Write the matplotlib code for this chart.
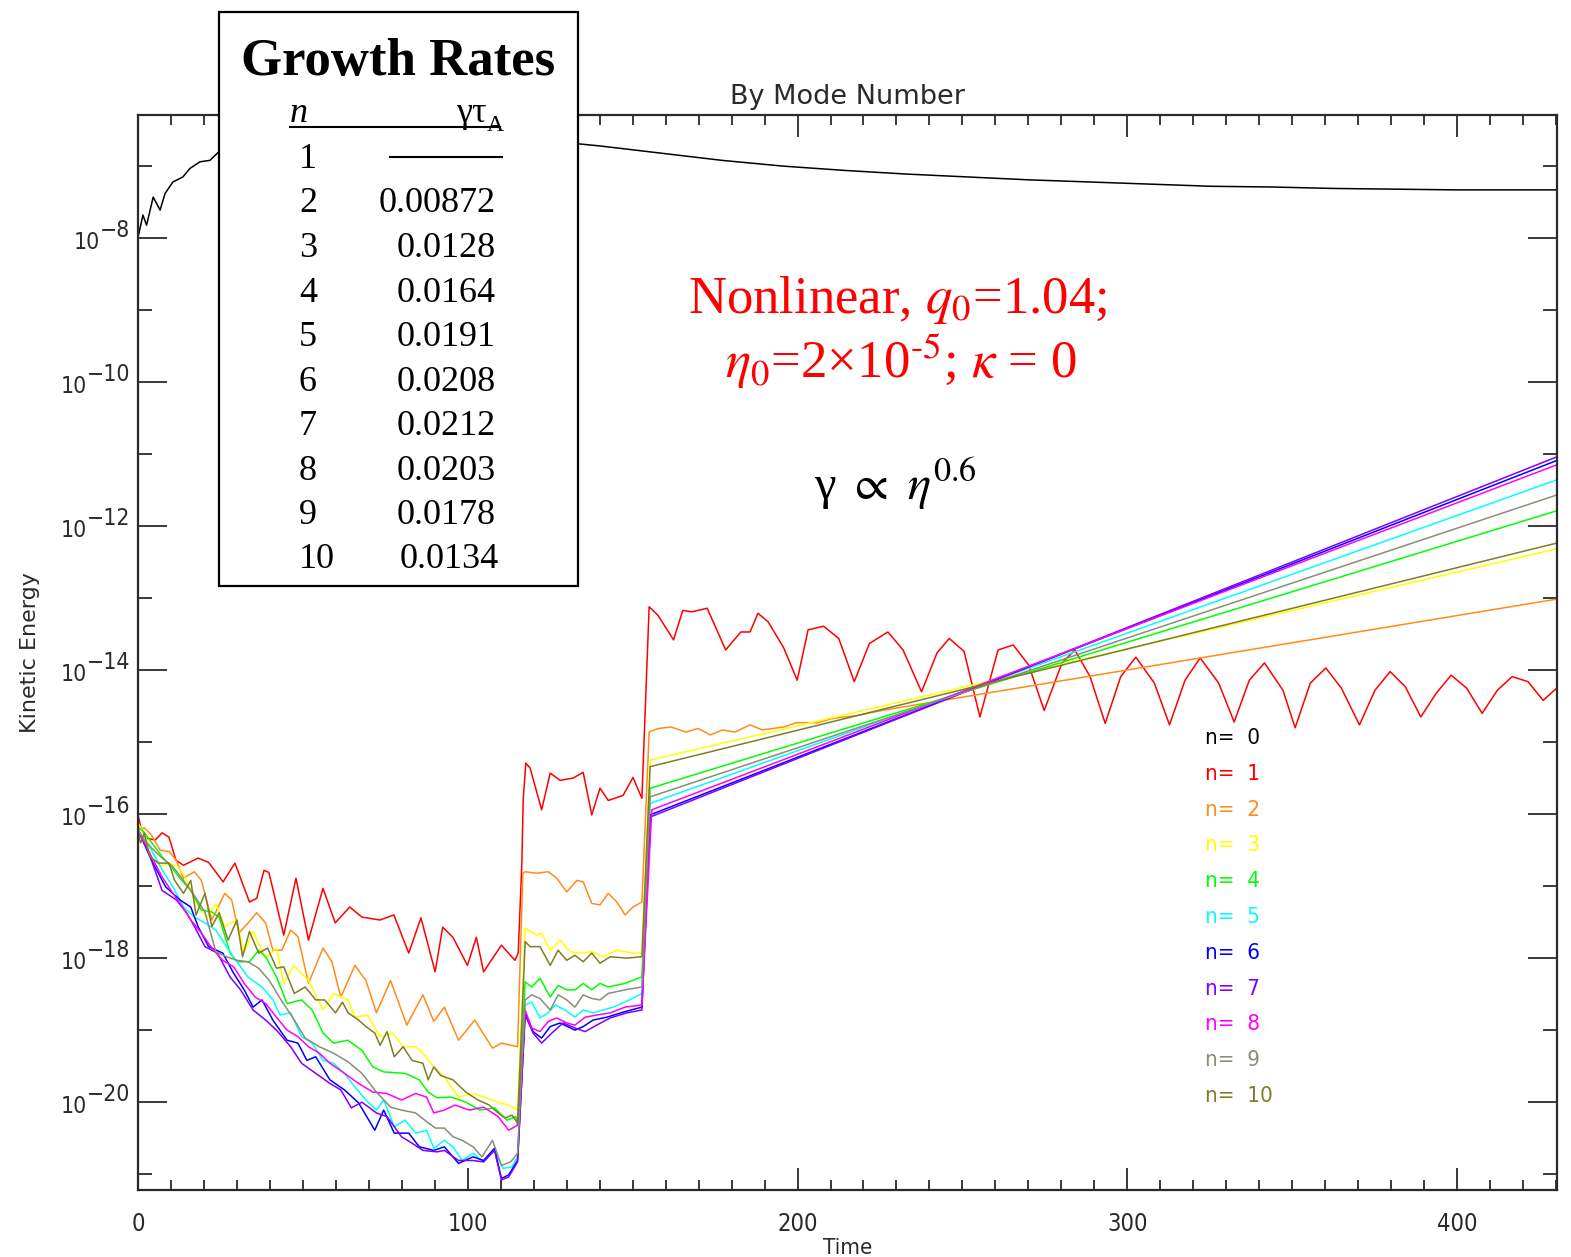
import numpy as np
import matplotlib.pyplot as plt
from matplotlib.patches import Rectangle
from matplotlib.lines import Line2D
from matplotlib.ticker import FixedLocator, MultipleLocator, NullFormatter

# kinetic energy of each toroidal mode n; columns: time, log10(KE)
ke_n0 = np.array([[0, -7.99], [1.5, -7.68], [2.6, -7.82], [4.6, -7.43], [6.7, -7.61], [8.2, -7.38],
                  [10.6, -7.22], [13.6, -7.15], [15.8, -7.03], [18.8, -6.94], [21.8, -6.92], [24.3, -6.81],
                  [133.5, -6.69], [140.1, -6.72], [158.6, -6.82], [177.1, -6.92], [195.6, -7.00],
                  [214.4, -7.06], [232.9, -7.11], [251.4, -7.15], [269.9, -7.19], [288.4, -7.22],
                  [306.9, -7.25], [325.4, -7.28], [343.9, -7.29], [362.4, -7.31], [380.9, -7.32],
                  [399.8, -7.33], [430.4, -7.33]])

ke_n1 = np.array([[0, -16.01], [0.8, -16.17], [2.4, -16.33], [5.2, -16.36], [7.3, -16.26], [9.4, -16.32],
                  [11.5, -16.64], [13.8, -16.71], [18.2, -16.61], [21.4, -16.67], [25.8, -16.94], [29.4, -16.68],
                  [33.8, -17.22], [36.0, -17.17], [38.2, -16.78], [39.7, -16.81], [44.2, -17.68], [47.9, -16.89],
                  [51.7, -17.75], [56.1, -17.03], [59.8, -17.51], [64.2, -17.29], [67.9, -17.43], [73.4, -17.47],
                  [77.6, -17.40], [82.1, -17.93], [85.8, -17.44], [90.1, -18.19], [92.4, -17.57], [95.5, -17.71],
                  [99.9, -18.10], [102.6, -17.71], [104.8, -18.19], [110.2, -17.82], [114.3, -18.03],
                  [115.3, -17.93], [116.4, -16.68], [116.8, -15.81], [117.6, -15.29], [118.9, -15.36],
                  [122.4, -15.94], [125.0, -15.43], [128.0, -15.53], [131.9, -15.50], [135.0, -15.42],
                  [137.6, -16.01], [140.1, -15.64], [142.6, -15.81], [147.1, -15.74], [150.1, -15.49],
                  [152.8, -15.78], [155.0, -13.12], [157.7, -13.24], [162.4, -13.58], [165.2, -13.17],
                  [168.0, -13.19], [172.6, -13.14], [178.2, -13.72], [182.8, -13.47], [185.6, -13.47],
                  [188.0, -13.21], [191.1, -13.33], [195.8, -13.69], [199.9, -14.14], [203.2, -13.44],
                  [207.9, -13.39], [212.5, -13.56], [217.2, -14.16], [221.8, -13.63], [227.4, -13.47],
                  [232.0, -13.72], [237.6, -14.30], [242.3, -13.76], [246.0, -13.56], [250.5, -13.74],
                  [255.3, -14.65], [260.8, -13.72], [265.4, -13.65], [270.1, -13.93], [274.8, -14.56],
                  [280.2, -13.90], [284.1, -13.72], [288.7, -14.09], [293.3, -14.74], [298.0, -14.09],
                  [302.6, -13.82], [308.2, -14.18], [312.8, -14.76], [317.5, -14.14], [322.1, -13.83],
                  [327.7, -14.18], [332.4, -14.72], [337.0, -14.14], [341.6, -13.90], [347.2, -14.28],
                  [350.9, -14.80], [355.5, -14.18], [360.2, -13.97], [364.9, -14.25], [370.4, -14.76],
                  [375.1, -14.28], [379.7, -14.02], [384.3, -14.23], [389.0, -14.65], [393.7, -14.32],
                  [398.2, -14.07], [402.9, -14.25], [407.6, -14.60], [412.2, -14.28], [416.7, -14.09],
                  [421.5, -14.16], [426.1, -14.42], [430.7, -14.23]])

ke_n2 = np.array([[0, -16.22], [1.9, -16.19], [4.1, -16.29], [6.7, -16.50], [9.4, -16.52], [11.6, -16.64],
                  [13.8, -16.89], [17.1, -16.80], [19.2, -16.92], [22.4, -17.47], [26.3, -17.10], [28.4, -17.19],
                  [30.6, -17.65], [33.4, -17.51], [36.0, -17.37], [38.7, -17.51], [40.9, -17.89], [43.6, -17.89],
                  [46.3, -17.61], [48.5, -17.70], [51.7, -18.35], [56.1, -17.86], [58.8, -18.05], [61.5, -18.54],
                  [65.8, -18.10], [69.1, -18.31], [72.3, -18.76], [76.6, -18.31], [81.5, -18.93], [86.4, -18.51],
                  [89.7, -18.88], [92.9, -18.68], [97.2, -19.14], [102.1, -18.86], [107.5, -19.25],
                  [110.2, -19.18], [115.1, -19.23], [116.7, -16.82], [117.4, -16.80], [120.9, -16.82],
                  [124.4, -16.80], [127.0, -16.89], [130.0, -17.08], [133.1, -16.92], [135.0, -16.94],
                  [137.6, -17.24], [140.1, -17.26], [142.6, -17.10], [145.2, -17.22], [147.7, -17.40],
                  [150.1, -17.29], [152.8, -17.22], [155.0, -14.86], [157.7, -14.81], [161.7, -14.79],
                  [166.2, -14.86], [169.9, -14.81], [173.5, -14.90], [177.3, -14.83], [181.0, -14.86],
                  [185.6, -14.76], [189.3, -14.83], [195.8, -14.79], [199.6, -14.73], [206.1, -14.73],
                  [210.7, -14.67], [218.1, -14.63], [225.6, -14.56], [430.7, -13.01]])

ke_n3 = np.array([[0, -16.12], [1.8, -16.26], [4.1, -16.52], [6.7, -16.73], [9.4, -16.68], [12.1, -16.73],
                  [14.9, -16.92], [17.1, -17.19], [20.9, -17.44], [23.6, -17.24], [26.3, -17.56], [30.0, -17.47],
                  [32.1, -17.93], [34.9, -17.63], [38.7, -18.00], [42.0, -17.86], [44.2, -18.35], [47.3, -18.10],
                  [51.7, -18.31], [56.1, -18.72], [59.3, -18.49], [63.7, -18.58], [65.8, -18.82], [69.6, -18.79],
                  [73.4, -19.09], [77.2, -19.04], [80.4, -19.23], [84.2, -19.23], [86.4, -19.32], [89.7, -19.51],
                  [92.9, -19.65], [97.2, -19.93], [101.6, -19.88], [104.8, -19.93], [109.2, -20.00],
                  [112.4, -20.04], [115.1, -20.11], [117.4, -17.58], [120.9, -17.68], [122.4, -17.65],
                  [125.0, -17.89], [128.0, -17.75], [131.0, -17.91], [134.0, -17.93], [137.6, -17.91],
                  [141.0, -17.98], [145.2, -17.89], [150.1, -17.93], [152.8, -17.93], [155.3, -15.25],
                  [430.7, -12.31]])

ke_n4 = np.array([[0, -16.18], [1.8, -16.25], [4.1, -16.39], [7.3, -16.59], [10.0, -16.73], [12.7, -16.89],
                  [16.0, -17.06], [19.2, -17.33], [22.4, -17.36], [24.6, -17.43], [27.9, -17.93], [30.0, -18.05],
                  [33.8, -18.05], [36.6, -17.89], [38.7, -17.98], [42.0, -18.26], [45.2, -18.63], [49.6, -18.58],
                  [52.8, -18.72], [56.1, -19.04], [59.3, -19.18], [63.7, -19.14], [67.9, -19.28], [71.2, -19.51],
                  [74.5, -19.58], [81.0, -19.60], [85.3, -19.69], [88.0, -19.86], [90.7, -19.94], [95.1, -19.93],
                  [99.4, -20.00], [103.7, -20.11], [108.1, -20.08], [111.9, -20.25], [114.6, -20.20],
                  [115.1, -20.32], [117.4, -18.33], [119.4, -18.40], [121.9, -18.28], [125.0, -18.54],
                  [127.4, -18.38], [130.0, -18.44], [132.5, -18.44], [135.0, -18.35], [137.6, -18.44],
                  [140.1, -18.35], [142.6, -18.40], [147.7, -18.35], [152.8, -18.26], [155.3, -15.64],
                  [430.7, -11.78]])

ke_n5 = np.array([[0, -16.22], [4.1, -16.50], [7.9, -16.82], [10.6, -17.01], [13.8, -17.29], [17.1, -17.43],
                  [20.3, -17.51], [23.6, -17.61], [26.8, -17.84], [30.0, -18.05], [33.3, -18.26], [37.6, -18.40],
                  [40.9, -18.58], [43.1, -18.79], [46.3, -18.76], [49.6, -19.09], [52.8, -19.18], [56.1, -19.42],
                  [59.3, -19.46], [62.6, -19.60], [65.8, -19.79], [69.1, -19.97], [72.3, -20.11], [74.5, -19.97],
                  [77.7, -20.34], [81.0, -20.25], [84.2, -20.43], [87.5, -20.39], [89.7, -20.64], [92.9, -20.53],
                  [95.5, -20.62], [98.3, -20.81], [101.6, -20.71], [104.8, -20.83], [108.1, -20.67],
                  [110.7, -20.92], [113.4, -20.90], [115.1, -20.76], [117.4, -18.65], [119.4, -18.61],
                  [121.9, -18.83], [124.4, -18.76], [126.5, -18.65], [129.5, -18.72], [132.5, -18.82],
                  [135.0, -18.72], [138.0, -18.76], [141.0, -18.72], [144.1, -18.68], [147.7, -18.61],
                  [152.8, -18.49], [155.3, -15.85], [430.7, -11.35]])

ke_n6 = np.array([[0, -16.22], [4.1, -16.64], [8.4, -17.01], [12.7, -17.19], [16.0, -17.29], [18.2, -17.56],
                  [21.4, -17.84], [25.7, -17.93], [29.0, -18.21], [32.2, -18.44], [34.9, -18.68], [37.6, -18.58],
                  [40.9, -18.86], [45.2, -19.14], [48.5, -19.18], [51.2, -19.42], [53.9, -19.37], [58.2, -19.69],
                  [62.6, -19.83], [66.9, -20.01], [71.8, -20.39], [74.5, -20.11], [77.7, -20.43], [82.1, -20.43],
                  [85.3, -20.62], [89.7, -20.67], [92.9, -20.62], [97.2, -20.85], [101.6, -20.76],
                  [104.8, -20.81], [108.1, -20.64], [110.2, -21.06], [112.4, -21.01], [115.1, -20.81],
                  [117.4, -18.76], [119.8, -19.02], [122.4, -19.11], [125.0, -18.95], [128.0, -18.90],
                  [132.5, -19.00], [135.0, -18.95], [138.0, -18.86], [142.2, -18.82], [147.1, -18.75],
                  [152.8, -18.68], [155.3, -16.01], [430.7, -11.08]])

ke_n7 = np.array([[0, -16.22], [3.0, -16.50], [7.3, -17.06], [11.6, -17.19], [14.9, -17.38], [17.1, -17.56],
                  [20.3, -17.84], [24.1, -17.93], [27.9, -18.26], [31.1, -18.44], [34.9, -18.72], [38.7, -18.86],
                  [42.0, -19.00], [46.3, -19.23], [49.6, -19.46], [53.9, -19.60], [58.2, -19.74], [61.5, -19.83],
                  [64.7, -20.08], [67.9, -20.00], [72.3, -20.15], [75.5, -20.20], [79.9, -20.48], [83.1, -20.57],
                  [86.4, -20.67], [90.7, -20.69], [92.9, -20.67], [97.2, -20.81], [101.6, -20.81],
                  [104.8, -20.83], [108.1, -20.67], [110.2, -21.08], [112.4, -21.04], [115.1, -20.83],
                  [117.4, -18.79], [119.8, -19.04], [122.4, -19.18], [125.5, -19.04], [128.9, -18.90],
                  [132.5, -18.97], [135.6, -19.02], [139.1, -18.93], [143.2, -18.83], [148.2, -18.76],
                  [152.8, -18.72], [155.3, -16.04], [430.7, -11.03]])

ke_n8 = np.array([[0, -16.22], [4.1, -16.59], [7.3, -16.87], [10.6, -17.10], [13.8, -17.31], [16.0, -17.47],
                  [19.2, -17.65], [22.4, -17.86], [25.7, -18.03], [29.0, -18.12], [32.2, -18.35], [35.5, -18.54],
                  [38.7, -18.63], [42.0, -18.82], [45.2, -19.00], [48.5, -19.09], [51.7, -19.23], [55.0, -19.32],
                  [58.2, -19.46], [62.6, -19.60], [66.9, -19.74], [71.2, -19.86], [75.5, -19.88], [79.9, -19.97],
                  [84.2, -19.88], [87.5, -19.93], [89.7, -20.15], [92.9, -20.11], [96.1, -20.04],
                  [100.5, -20.11], [104.8, -20.07], [109.2, -20.20], [112.4, -20.39], [115.1, -20.32],
                  [117.4, -18.72], [119.4, -18.97], [121.9, -19.02], [124.4, -18.88], [127.0, -18.83],
                  [130.0, -18.90], [132.5, -18.93], [135.6, -18.82], [139.1, -18.79], [143.2, -18.76],
                  [147.7, -18.68], [152.8, -18.65], [155.8, -15.94], [430.7, -11.14]])

ke_n9 = np.array([[0, -16.22], [1.9, -16.36], [4.1, -16.47], [7.3, -16.61], [10.6, -16.73], [13.8, -16.92],
                  [17.1, -17.13], [20.3, -17.36], [23.6, -17.91], [26.8, -17.98], [30.0, -18.03], [33.3, -18.05],
                  [36.6, -18.14], [39.8, -18.31], [43.1, -18.56], [47.4, -18.86], [50.7, -19.11], [55.0, -19.23],
                  [59.3, -19.32], [63.7, -19.44], [67.9, -19.60], [72.3, -19.86], [76.6, -20.07], [79.9, -20.11],
                  [84.2, -20.15], [87.5, -20.27], [90.2, -20.36], [92.9, -20.36], [95.5, -20.48], [98.3, -20.53],
                  [101.6, -20.62], [104.3, -20.76], [107.5, -20.53], [110.2, -20.88], [113.0, -20.83],
                  [115.1, -20.71], [117.4, -18.58], [119.4, -18.51], [121.9, -18.56], [125.0, -18.72],
                  [127.4, -18.51], [130.0, -18.58], [132.5, -18.68], [135.0, -18.51], [137.6, -18.56],
                  [140.1, -18.58], [142.6, -18.49], [147.7, -18.44], [152.8, -18.40], [155.3, -15.76],
                  [430.7, -11.56]])

ke_n10 = np.array([[0, -16.26], [0.8, -16.40], [1.9, -16.26], [3.5, -16.59], [6.2, -16.68], [9.4, -16.68],
                   [11.1, -16.92], [13.8, -17.10], [16.0, -16.92], [17.6, -17.40], [20.3, -17.10], [22.4, -17.56],
                   [24.6, -17.37], [27.3, -17.75], [30.0, -17.47], [31.7, -17.98], [33.8, -17.63], [36.6, -17.93],
                   [39.3, -17.86], [42.0, -18.14], [44.2, -18.12], [47.4, -18.49], [50.7, -18.40], [53.9, -18.58],
                   [56.6, -18.58], [59.9, -18.76], [62.0, -18.61], [63.7, -18.76], [66.9, -18.86], [69.1, -18.95],
                   [71.8, -19.04], [73.4, -19.21], [75.5, -19.02], [77.7, -19.37], [80.4, -19.23], [83.1, -19.42],
                   [86.4, -19.46], [88.0, -19.69], [89.7, -19.51], [91.8, -19.63], [95.5, -19.69], [99.4, -19.86],
                   [103.1, -19.97], [106.5, -20.04], [109.2, -20.15], [111.3, -20.22], [113.4, -20.18],
                   [115.1, -20.29], [117.4, -17.77], [118.9, -17.84], [121.9, -17.84], [125.0, -18.10],
                   [127.4, -17.89], [130.0, -18.03], [132.5, -17.96], [135.0, -18.05], [137.6, -17.93],
                   [140.1, -18.07], [143.2, -17.98], [148.2, -18.00], [152.8, -17.98], [155.3, -15.34],
                   [430.7, -12.23]])

modes = [ke_n0, ke_n1, ke_n2, ke_n3, ke_n4, ke_n5, ke_n6, ke_n7, ke_n8, ke_n9, ke_n10]
mode_colors = ['#000000', '#ff0000', '#ff8c1a', '#ffff00', '#00ff00', '#00ffff',
               '#0000ff', '#8000ff', '#ff00ff', '#8c8c78', '#7d7d28']

# growth-rate table (n = 1 has no linear growth rate)
table_n = [1, 2, 3, 4, 5, 6, 7, 8, 9, 10]
table_rate = [None, 0.00872, 0.0128, 0.0164, 0.0191, 0.0208, 0.0212, 0.0203, 0.0178, 0.0134]

y_label_exps = [-8, -10, -12, -14, -16, -18, -20]

W, H = 1571, 1257
fig = plt.figure(figsize=(W / 100, H / 100), dpi=100)
ax = fig.add_axes([138 / W, 1 - 1190 / H, (1557 - 138) / W, (1190 - 115) / H])

cond = dict(family='DejaVu Sans', stretch='condensed')
dark = '#2a2a2a'
lab_size = 16.5

for data, col in zip(modes, mode_colors):
    ax.plot(data[:, 0], 10.0 ** data[:, 1], color=col, lw=1.1)

ax.set_yscale('log')
ax.set_xlim(0, 430.3)
ax.set_ylim(10 ** -21.22, 10 ** -6.29)

ax.xaxis.set_major_locator(MultipleLocator(100))
ax.xaxis.set_minor_locator(MultipleLocator(10))
ax.yaxis.set_major_locator(FixedLocator(10.0 ** np.arange(-20, -7, 2)))
ax.yaxis.set_minor_locator(FixedLocator(10.0 ** np.arange(-21, -6, 2)))
ax.yaxis.set_major_formatter(NullFormatter())
ax.yaxis.set_minor_formatter(NullFormatter())

ax.tick_params(which='both', direction='in', top=True, right=True, color=dark, width=1.3,
               labelcolor=dark)
ax.tick_params(axis='x', which='major', length=15.5, pad=16, labelsize=17)
ax.tick_params(axis='x', which='minor', length=7)
ax.tick_params(axis='y', which='major', length=21)
ax.tick_params(axis='y', which='minor', length=10)
for lab in ax.get_xticklabels():
    lab.set_fontstretch('condensed')

for sp in ax.spines.values():
    sp.set_linewidth(1.6)
    sp.set_color(dark)

# y tick labels: "10" with a full-size raised exponent
ytrans = ax.get_yaxis_transform()
for e in y_label_exps:
    digits = str(abs(e))
    exp_w = (0.754 + 0.572 * len(digits)) * lab_size
    ax.annotate('\u2212' + digits, xy=(0, 10.0 ** e), xycoords=ytrans, xytext=(-5.8, 1.0),
                textcoords='offset points', ha='right', va='baseline', fontsize=lab_size,
                color=dark, annotation_clip=False, **cond)
    ax.annotate('10', xy=(0, 10.0 ** e), xycoords=ytrans, xytext=(-5.8 - exp_w, -8.0),
                textcoords='offset points', ha='right', va='baseline', fontsize=lab_size,
                color=dark, annotation_clip=False, **cond)

ax.set_title('By Mode Number', fontsize=19.5, color=dark, pad=8, family='DejaVu Sans')
ax.set_xlabel('Time', fontsize=16, color=dark, labelpad=1, **cond)
ax.set_ylabel('Kinetic Energy', fontsize=16, color=dark, family='DejaVu Sans')
ax.yaxis.set_label_coords(-0.069, 0.5)

# mode legend
for n, col in enumerate(mode_colors):
    ax.text(0.752, 0.4205 - n * 0.0333, f'n=  {n}', transform=ax.transAxes, color=col,
            fontsize=16, va='center', ha='left', **cond)

# annotations
serif = 'Liberation Serif'
ax.text(0.535, 1 - (313 - 115) / 1075, r'Nonlinear, $q_{\mathit{0}}$=1.04;', transform=ax.transAxes,
        color='#ff0000', fontsize=38, family=serif, math_fontfamily='stix', ha='center', va='baseline')
ax.text(0.538, 1 - (378 - 115) / 1075, r'$\eta_{\mathit{0}}$=2×10$^{\text{-5}}$; $\kappa$ = 0',
        transform=ax.transAxes, color='#ff0000', fontsize=38, family=serif, math_fontfamily='stix',
        ha='center', va='baseline')
ax.text(0.534, 1 - (500 - 115) / 1075, r'γ $\propto$ $\eta^{0.6}$', transform=ax.transAxes,
        color='black', fontsize=35, family=serif, math_fontfamily='stix', ha='center', va='baseline')


# growth-rate table drawn in figure pixel coordinates
def fx(x):
    return x / W


def fy(y):
    return 1 - y / H


box = Rectangle((fx(219), fy(586)), fx(578) - fx(219), fy(12) - fy(586), transform=fig.transFigure,
                facecolor='white', edgecolor='black', lw=1.6, zorder=10)
fig.add_artist(box)
fig.text(fx(398), fy(75), 'Growth Rates', fontsize=38, fontweight='bold', family=serif,
         ha='center', va='baseline', zorder=11)
fig.text(fx(290), fy(122), 'n', fontsize=26, style='italic', family=serif, ha='left', va='baseline', zorder=11)
fig.text(fx(487), fy(122), 'γτ', fontsize=26, family=serif, ha='right', va='baseline', zorder=11)
fig.text(fx(487), fy(131), 'A', fontsize=17, family=serif, ha='left', va='baseline', zorder=11)
fig.add_artist(Line2D([fx(290), fx(500)], [fy(127), fy(127)], transform=fig.transFigure,
                      color='black', lw=1.5, zorder=11))
for i, (n, rate) in enumerate(zip(table_n, table_rate)):
    base = 168 + i * 44.5
    fig.text(fx(299), fy(base), str(n), fontsize=26, family=serif, ha='left', va='baseline', zorder=11)
    if rate is None:
        fig.add_artist(Line2D([fx(390), fx(502)], [fy(base - 11), fy(base - 11)],
                              transform=fig.transFigure, color='black', lw=1.5, zorder=11))
    else:
        right = 499 if n == 10 else 496
        fig.text(fx(right), fy(base), str(rate), fontsize=26, family=serif, ha='right',
                 va='baseline', zorder=11)

fig.savefig('out.png', dpi=100)
